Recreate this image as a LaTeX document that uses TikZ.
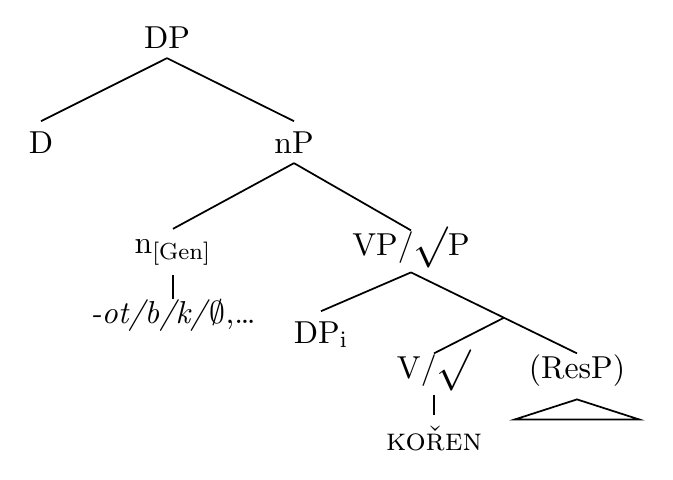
\documentclass[tikz,border=0pt]{standalone}
\usepackage{amsmath,amssymb}
\usepackage{graphicx}
\usepackage{tikz}
\usetikzlibrary{positioning, calc}
\newcommand{\rootsym}{\raisebox{-0.08em}{\scalebox{1.3}{$\surd$}}}

\begin{document}
\begin{tikzpicture}[
    x=0.345pt, y=-0.345pt,
    font=\fontsize{10.95}{13.6}\selectfont,
    cat/.style={anchor=base, inner sep=3.3pt},
    flatcat/.style={cat, text height=0.5em, text depth=0.25em},
    lowcat/.style={cat, text height=0.82em, inner ysep=0pt},
    branch/.style={line width=0.6pt}
]
\useasboundingbox (0,0) rectangle (673,479);

% DP and its daughters
\node[cat] (dp) at (167,48) {DP};
\node[cat] (d) at (41,153) {D};
\node[cat] (np) at (294,153) {nP};
\draw[branch] (dp.south) -- (d.north);
\draw[branch] (dp.south) -- (np.north);

% nP
\node[cat] (n) at (173,253) {n$_{\mathrm{[Gen]}}$};
\node[flatcat] (vp) at (411,255) {VP/\rootsym P};
\draw[branch] (np.south) -- (n.north);
\draw[branch] (np.south) -- (vp.north);

% exponents of n
\node[lowcat] (exp) at (173,323) {\textit{-ot/b/k/}$\emptyset$,\dots};
\draw[branch] (n.south) -- (exp.north);

% VP/root P
\node[cat] (dpi) at (321,343) {DP$_{\mathrm{i}}$};
\node[flatcat] (v) at (434,378) {V/\rootsym};
\node[flatcat] (resp) at (577,378) {(ResP)};
\coordinate (vbar) at ($(vp.south)!0.56!(resp.north)$);
\draw[branch] (vp.south) -- (dpi.north);
\draw[branch] (vp.south) -- (resp.north);
\draw[branch] (vbar) -- (v.north);

% root and the ResP triangle
\node[cat] (kor) at (434,450) {\textsc{kořen}};
\draw[branch] (v.south) -- (kor.north);
\draw[branch] ($(resp.south)+(0,4)$) -- ++(-62,20) -- ++(124,0) -- cycle;

\end{tikzpicture}
\end{document}
